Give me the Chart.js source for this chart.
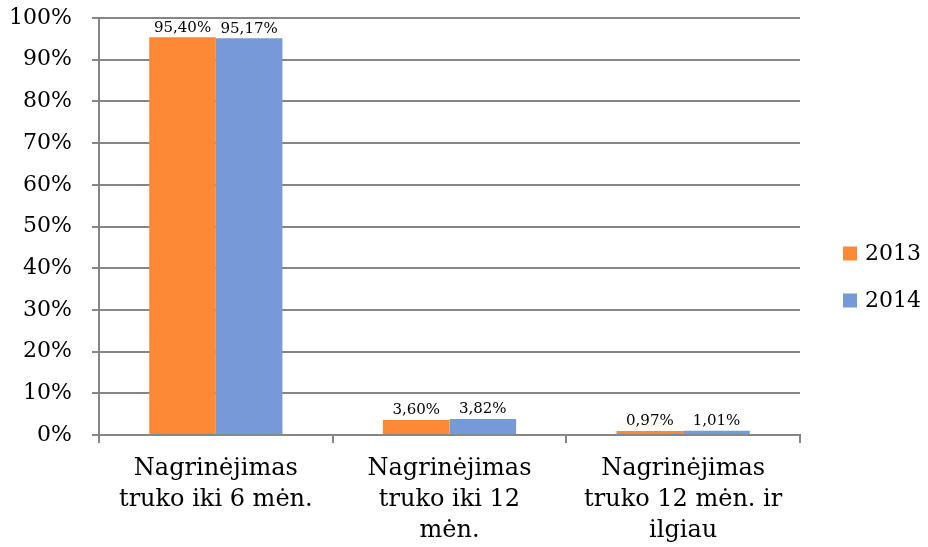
<!DOCTYPE html>
<html>
<head>
<meta charset="utf-8">
<script src="https://cdn.jsdelivr.net/npm/chart.js@4"></script>
<style>
	body { margin: 0; background: #fff; }
	#wrap { width: 928px; height: 547px; }
</style>
</head>
<body>
<div id="wrap"><canvas id="chart"></canvas></div>
<script>
// === Data ===

const categories = [
	['Nagrinėjimas', 'truko iki 6 mėn.'],
	['Nagrinėjimas', 'truko iki 12', 'mėn.'],
	['Nagrinėjimas', 'truko 12 mėn. ir', 'ilgiau']
];
const series2013 = [95.40, 3.60, 0.97];
const series2014 = [95.17, 3.82, 1.01];
const seriesNames = ['2013', '2014'];

const FONT = '"DejaVu Serif", serif';
const GRID = '#868686';


// === Value labels above the bars ===

const valueLabels = {
	id: 'valueLabels',
	afterDatasetsDraw(chart) {
		const ctx = chart.ctx;
		ctx.save();
		ctx.font = '15px ' + FONT;
		ctx.fillStyle = '#000';
		ctx.textAlign = 'center';
		ctx.textBaseline = 'bottom';
		chart.data.datasets.forEach((ds, i) => {
			chart.getDatasetMeta(i).data.forEach((bar, j) => {
				const txt = ds.data[j].toFixed(2).replace('.', ',') + '%';
				ctx.fillText(txt, bar.x, bar.y - 2);
			});
		});
		ctx.restore();
	}
};


// === Legend on the right (drawn by hand to get the spacing right) ===

const sideLegend = {
	id: 'sideLegend',
	afterDraw(chart) {
		const ctx = chart.ctx;
		const x = chart.chartArea.right + 43;
		let y = chart.height / 2 - 20;
		ctx.save();
		ctx.font = '22px ' + FONT;
		ctx.textBaseline = 'middle';
		ctx.textAlign = 'left';
		chart.data.datasets.forEach(ds => {
			ctx.fillStyle = ds.backgroundColor;
			ctx.fillRect(x, y - 7, 14, 14);
			ctx.fillStyle = '#000';
			ctx.fillText(ds.label, x + 22, y + 1);
			y += 47;
		});
		ctx.restore();
	}
};


// === Chart ===

new Chart(document.getElementById('chart'), {
	type: 'bar',
	data: {
		labels: categories,
		datasets: [
			{
				label: seriesNames[0],
				data: series2013,
				backgroundColor: '#fd8936',
				categoryPercentage: 0.57,
				barPercentage: 1
			},
			{
				label: seriesNames[1],
				data: series2014,
				backgroundColor: '#7699d7',
				categoryPercentage: 0.57,
				barPercentage: 1
			}
		]
	},
	options: {
		responsive: true,
		maintainAspectRatio: false,
		animation: false,
		layout: { padding: { top: 18, left: 2, right: 128, bottom: 0 } },
		plugins: {
			legend: { display: false },
			tooltip: { enabled: false }
		},
		scales: {
			y: {
				min: 0,
				max: 100,
				afterFit: s => { s.width = 97; s.paddingTop = 0; s.paddingBottom = 0; },
				ticks: {
					stepSize: 10,
					padding: 20,
					color: '#000',
					font: { family: FONT, size: 22 },
					callback: v => v + '%'
				},
				grid: { color: GRID, lineWidth: 2, tickLength: 7 },
				border: { color: GRID, width: 2 }
			},
			x: {
				afterFit: s => { s.height = 112; s.paddingLeft = 0; s.paddingRight = 0; },
				ticks: {
					padding: 10,
					color: '#000',
					font: { family: FONT, size: 24, lineHeight: 1.3 },
					maxRotation: 0
				},
				grid: { color: GRID, lineWidth: 2, drawOnChartArea: false, tickLength: 8 },
				border: { color: GRID, width: 2 }
			}
		}
	},
	plugins: [valueLabels, sideLegend]
});
</script>
</body>
</html>
